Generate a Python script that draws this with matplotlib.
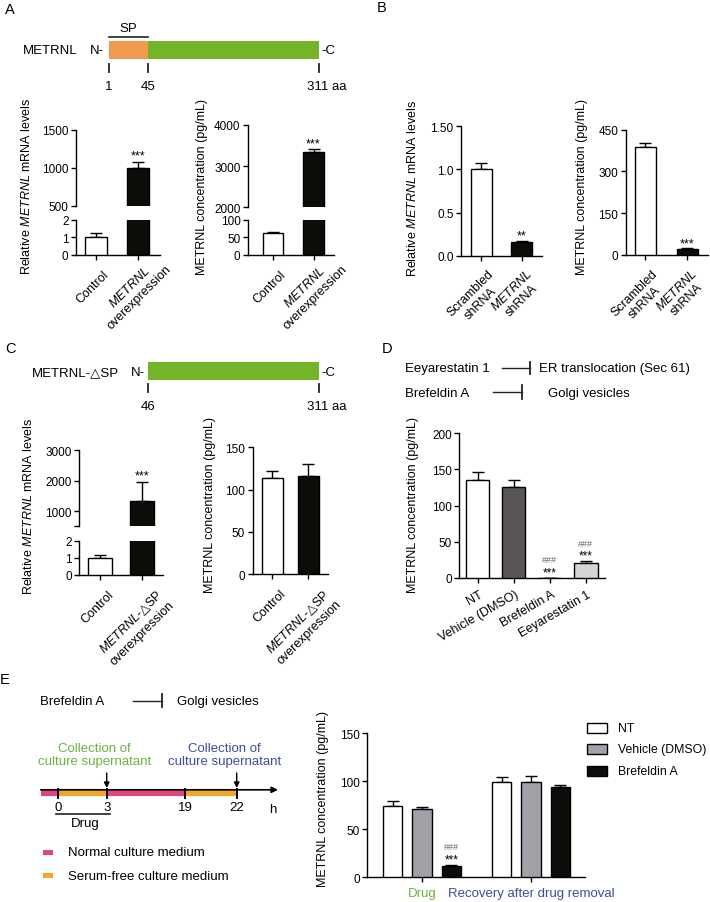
import numpy as np
import matplotlib
matplotlib.use('Agg')
import matplotlib.pyplot as plt
from matplotlib.patches import Rectangle
from matplotlib.transforms import ScaledTranslation

plt.rcParams['font.family'] = ['Liberation Sans', 'DejaVu Sans']
plt.rcParams['mathtext.fontset'] = 'custom'
plt.rcParams['mathtext.rm'] = 'Liberation Sans'
plt.rcParams['mathtext.it'] = 'Liberation Sans:italic'
plt.rcParams['mathtext.sf'] = 'DejaVu Sans'
plt.rcParams['mathtext.fallback'] = 'stix'

# ---- data ----
a_labels = ['Control', '$\\mathit{METRNL}$\noverexpression']
a_mrna = [1.0, 1000]
a_mrna_err = [0.22, 80]
a_conc = [61, 3350]
a_conc_err = [5, 60]

b_labels = ['Scrambled\nshRNA', '$\\mathit{METRNL}$\nshRNA']
b_mrna = [1.0, 0.155]
b_mrna_err = [0.08, 0.02]
b_conc = [388, 22]
b_conc_err = [15, 2]

c_labels = ['Control', '$\\mathit{METRNL}$-$\\mathsf{\u25b3}$SP\noverexpression']
c_mrna = [1.0, 1345]
c_mrna_err = [0.15, 620]
c_conc = [114, 116]
c_conc_err = [8, 14]

d_labels = ['NT', 'Vehicle (DMSO)', 'Brefeldin A', 'Eeyarestatin 1']
d_conc = [135, 126, 0.4, 21]
d_conc_err = [12, 9.5, 0, 2]

e_groups = ['Drug', 'Recovery after drug removal']
e_series = ['NT', 'Vehicle (DMSO)', 'Brefeldin A']
e_nt = [74, 99]
e_nt_err = [5.5, 5.5]
e_vehicle = [71.5, 99.6]
e_vehicle_err = [1.5, 6]
e_brefeldin = [12, 94.4]
e_brefeldin_err = [0.5, 2]

timeline_hours = ['0', '3', '19', '22']
media = ['Normal culture medium', 'Serum-free culture medium']

BLACK = '#0c0c08'
ORANGE = '#f0994f'
GREEN = '#73b428'
PINK = '#e2447f'
YELLOW = '#f0a62a'
TXT_GREEN = '#6cb33f'
TXT_BLUE = '#3f4c9c'
HASH = '#666666'

W, H = 710, 903
fig = plt.figure(figsize=(W / 100, H / 100), dpi=100)

# overlay in pixel coordinates for the schematics
ov = fig.add_axes([0, 0, 1, 1])
ov.set_xlim(0, W)
ov.set_ylim(H, 0)
ov.axis('off')


def px_axes(x0, y0, x1, y1):
    ax = fig.add_axes([x0 / W, 1 - y1 / H, (x1 - x0) / W, (y1 - y0) / H])
    ax.patch.set_visible(False)
    ax.spines[['top', 'right']].set_visible(False)
    for s in ax.spines.values():
        s.set_linewidth(1.0)
    ax.tick_params(direction='out', length=3.6, width=1.0, pad=1.8, labelsize=8.5)
    return ax


def hide_x(ax):
    ax.spines['bottom'].set_visible(False)
    ax.tick_params(axis='x', bottom=False, labelbottom=False)


def bars(ax, x, vals, errs, colors, width):
    ax.bar(x, vals, width, color=colors, edgecolor='black', linewidth=1.0, zorder=3)
    ax.errorbar(x, vals, yerr=[np.zeros(len(vals)), errs], fmt='none', ecolor='black',
                elinewidth=1.0, capsize=4, capthick=1.0, zorder=2)


def mark(ax, x, y, s, dy, size=9, color='black'):
    ax.annotate(s, (x, y), xytext=(0, dy), textcoords='offset pixels', ha='center',
                va='baseline', fontsize=size, color=color, annotation_clip=False)


def rot_labels(ax, labels, rot, offsets):
    x = np.arange(len(labels))
    ax.set_xticks(x)
    ax.set_xticklabels([])
    for xi, lab, (dx, dy) in zip(x, labels, offsets):
        tr = ax.get_xaxis_transform() + ScaledTranslation(dx / 100, -dy / 100, fig.dpi_scale_trans)
        ax.text(xi, 0, lab, transform=tr, rotation=rot, ha='right', va='top',
                rotation_mode='anchor', multialignment='center', fontsize=9)


def ylab(x, y, s):
    fig.text(x / W, 1 - y / H, s, rotation=90, ha='center', va='center', fontsize=9)


def broken(box, ylims, yticks, yticklabels, xlim, vals, errs, colors, width):
    x0, x1, ya, yb, yc, yd = box
    top = px_axes(x0, ya, x1, yb)
    bot = px_axes(x0, yc, x1, yd)
    for ax, lim, tk, tl in zip([top, bot], ylims, yticks, yticklabels):
        bars(ax, np.arange(len(vals)), vals, errs, colors, width)
        ax.set_ylim(*lim)
        ax.set_xlim(*xlim)
        ax.set_yticks(tk)
        ax.set_yticklabels(tl)
    hide_x(top)
    return top, bot


# ---------------- panel letters ----------------
for letter, (x, y) in zip('ABCDE', [(10, 9.5), (381.7, 8), (11, 349.5), (386.7, 348.7), (5, 680)]):
    ov.text(x, y, letter, fontsize=10.5, ha='center', va='center')

# ---------------- A : protein schematic ----------------
ov.text(22.7, 51.3, 'METRNL', fontsize=9.5, va='center')
ov.text(90, 51.3, 'N-', fontsize=9.5, va='center')
ov.add_patch(Rectangle((109, 41.7), 39, 18.3, facecolor=ORANGE, edgecolor='none'))
ov.add_patch(Rectangle((148, 41.7), 171, 18.3, facecolor=GREEN, edgecolor='none'))
ov.text(321.7, 51.3, '-C', fontsize=9.5, va='center')
ov.plot([109, 148], [37.7, 37.7], color='#222222', lw=1.2)
ov.text(128.3, 29, 'SP', fontsize=9.5, ha='center', va='center')
for xt in [109, 148, 319]:
    ov.plot([xt, xt], [65, 72.7], color='#222222', lw=1.3)
ov.text(109, 87.5, '1', fontsize=9.5, ha='center', va='center')
ov.text(148, 87.5, '45', fontsize=9.5, ha='center', va='center')
ov.text(307.3, 87.5, '311 aa', fontsize=9.5, va='center')

# A charts
top, bot = broken((76, 160, 130.7, 207, 220.7, 255.7), [(500, 1500), (0, 2)],
                  [[500, 1000, 1500], [0, 1, 2]], [['500', '1000', '1500'], ['0', '1', '2']],
                  (-0.476, 1.524), a_mrna, a_mrna_err, ['white', BLACK], 0.52)
mark(top, 1, a_mrna[1] + a_mrna_err[1], '***', 3)
rot_labels(bot, a_labels, 45, [(7, 13), (17, -3)])
ylab(27, 186, 'Relative $\\mathit{METRNL}$ mRNA levels')

top, bot = broken((248, 334, 125.7, 208.3, 220.7, 255.7), [(2000, 4000), (0, 100)],
                  [[2000, 3000, 4000], [0, 50, 100]], [['2000', '3000', '4000'], ['0', '50', '100']],
                  (-0.617, 1.506), a_conc, a_conc_err, ['white', BLACK], 0.5)
mark(top, 1, a_conc[1] + a_conc_err[1], '***', 3)
rot_labels(bot, a_labels, 45, [(7, 13), (17, -3)])
ylab(202, 187, 'METRNL concentration (pg/mL)')

# ---------------- B ----------------
ax = px_axes(461, 127.3, 541.7, 256.7)
bars(ax, np.arange(2), b_mrna, b_mrna_err, ['white', BLACK], 0.52)
ax.set_ylim(0, 1.5)
ax.set_xlim(-0.5, 1.49)
ax.set_yticks([0, 0.5, 1.0, 1.5])
ax.set_yticklabels(['0.0', '0.5', '1.0', '1.50'])
mark(ax, 1, b_mrna[1] + b_mrna_err[1], '**', 2)
rot_labels(ax, b_labels, 45, [(6, 12), (4, 11)])
ylab(413, 188, 'Relative $\\mathit{METRNL}$ mRNA levels')

ax = px_axes(625.7, 130.7, 708, 256)
bars(ax, np.arange(2), b_conc, b_conc_err, ['white', BLACK], 0.5)
ax.set_ylim(0, 450)
ax.set_xlim(-0.475, 1.5)
ax.set_yticks([0, 150, 300, 450])
mark(ax, 1, b_conc[1] + b_conc_err[1], '***', 2)
rot_labels(ax, b_labels, 45, [(6, 12), (3, 11)])
ylab(582, 187, 'METRNL concentration (pg/mL)')

# ---------------- C : schematic ----------------
ov.text(31.7, 372.8, 'METRNL-\u25b3SP', fontsize=9.5, va='center')
ov.text(131, 372.8, 'N-', fontsize=9.5, va='center')
ov.add_patch(Rectangle((148, 362.7), 171, 18.6, facecolor=GREEN, edgecolor='none'))
ov.text(321.7, 372.8, '-C', fontsize=9.5, va='center')
for xt in [148, 319]:
    ov.plot([xt, xt], [385, 393], color='#222222', lw=1.3)
ov.text(148, 406.7, '46', fontsize=9.5, ha='center', va='center')
ov.text(307.3, 406.7, '311 aa', fontsize=9.5, va='center')

top, bot = broken((79.3, 163, 451.3, 527.3, 541.7, 575.7), [(500, 3000), (0, 2)],
                  [[500, 1000, 2000, 3000], [0, 1, 2]], [['', '1000', '2000', '3000'], ['0', '1', '2']],
                  (-0.51, 1.52), c_mrna, c_mrna_err, ['white', BLACK], 0.58)
mark(top, 1, c_mrna[1] + c_mrna_err[1], '***', 3)
rot_labels(bot, c_labels, 45, [(7, 13), (15, 12)])
ylab(28, 506, 'Relative $\\mathit{METRNL}$ mRNA levels')

ax = px_axes(252.7, 448.3, 328, 575)
bars(ax, np.arange(2), c_conc, c_conc_err, ['white', BLACK], 0.58)
ax.set_ylim(0, 150)
ax.set_xlim(-0.545, 1.55)
ax.set_yticks([0, 50, 100, 150])
rot_labels(ax, c_labels, 45, [(7, 13), (15, 12)])
ylab(210, 505, 'METRNL concentration (pg/mL)')

# ---------------- D ----------------
def inhibit(x0, x1, y, h):
    ov.plot([x0, x1], [y, y], color='#222222', lw=1.0)
    ov.plot([x1, x1], [y - h, y + h], color='#222222', lw=1.3)

ov.text(405, 369.5, 'Eeyarestatin 1', fontsize=9.5, va='center')
inhibit(501.7, 530, 369.3, 6)
ov.text(539.3, 369.5, 'ER translocation (Sec 61)', fontsize=9.5, va='center')
ov.text(405, 393.8, 'Brefeldin A', fontsize=9.5, va='center')
inhibit(493, 521.7, 392.5, 7)
ov.text(547.7, 393.8, 'Golgi vesicles', fontsize=9.5, va='center')

ax = px_axes(459.3, 434.3, 605, 579)
bars(ax, np.arange(4), d_conc, d_conc_err, ['white', '#5a5658', '#9a9a9a', '#d4d4d4'], 0.645)
ax.set_ylim(0, 200)
ax.set_xlim(-0.51, 3.53)
ax.set_yticks([0, 50, 100, 150, 200])
for i in [2, 3]:
    top_v = d_conc[i] + d_conc_err[i]
    mark(ax, i, top_v, '***', 2.5, size=8.5)
    mark(ax, i, top_v, '###', 15.5, size=6.5, color=HASH)
rot_labels(ax, d_labels, 30, [(1, 10)] * 4)
ylab(413, 505, 'METRNL concentration (pg/mL)')

# ---------------- E : schematic ----------------
ov.text(40, 701.7, 'Brefeldin A', fontsize=9.5, va='center')
inhibit(133, 161.7, 701.5, 6.5)
ov.text(176.7, 701.7, 'Golgi vesicles', fontsize=9.5, va='center')

tl_x = [58.3, 106.7, 185, 236.7]
band = [(40.7, 58.3, PINK), (58.3, 106.7, YELLOW), (106.7, 185, PINK), (185, 236.7, YELLOW)]
for xa, xb, col in band:
    ov.add_patch(Rectangle((xa, 790.5), xb - xa, 7, facecolor=col, edgecolor='none'))
ov.annotate('', xy=(278, 790.8), xytext=(40.7, 790.8),
            arrowprops=dict(arrowstyle='-|>', lw=1.2, color='black', mutation_scale=9, shrinkA=0, shrinkB=0))
for xt, lab in zip(tl_x, timeline_hours):
    ov.plot([xt, xt], [790.5, 799], color='black', lw=1.4)
    ov.text(xt, 808.3, lab, fontsize=9.5, ha='center', va='center')
ov.text(272.7, 810, 'h', fontsize=9.5, ha='center', va='center')
ov.plot([56, 110], [815.3, 815.3], color='#222222', lw=1.2)
ov.text(85, 824.3, 'Drug', fontsize=9.5, ha='center', va='center')
for xt, col in [(tl_x[1], TXT_GREEN), (tl_x[3], TXT_BLUE)]:
    ov.annotate('', xy=(xt, 789), xytext=(xt, 774),
                arrowprops=dict(arrowstyle='-|>', lw=1.0, color='black', mutation_scale=8, shrinkA=0, shrinkB=0))
    ov.text(xt - 12, 755.5, 'Collection of\nculture supernatant', fontsize=9.5, ha='center',
            va='center', color=col, linespacing=1.2)
for i, (name, col) in enumerate(zip(media, [PINK, YELLOW])):
    y = 853.3 + i * 23.4
    ov.add_patch(Rectangle((43.3, y - 2.5), 9.4, 5, facecolor=col, edgecolor='none'))
    ov.text(68.3, y, name, fontsize=9.5, va='center')

# E chart
ax = px_axes(367.3, 734.3, 585, 878.3)
gx = np.arange(len(e_groups))
e_vals = [e_nt, e_vehicle, e_brefeldin]
e_errs = [e_nt_err, e_vehicle_err, e_brefeldin_err]
e_colors = ['white', '#a2a1a8', BLACK]
for k, off in enumerate([-0.27, 0, 0.27]):
    bars(ax, gx + off, e_vals[k], e_errs[k], e_colors[k], 0.18)
ax.set_ylim(0, 150)
ax.set_xlim(-0.502, 1.495)
ax.set_yticks([0, 50, 100, 150])
ax.set_xticks(gx)
ax.set_xticklabels(e_groups, fontsize=9.5)
ax.tick_params(axis='x', pad=3.5)
for t, c in zip(ax.get_xticklabels(), [TXT_GREEN, TXT_BLUE]):
    t.set_color(c)
top_v = e_brefeldin[0] + e_brefeldin_err[0]
mark(ax, 0.27, top_v, '***', 3, size=8.5)
mark(ax, 0.27, top_v, '###', 16, size=6.5, color=HASH)
ylab(323, 799, 'METRNL concentration (pg/mL)')

for i, (name, col) in enumerate(zip(e_series, e_colors)):
    y = 729 + i * 21.4
    ov.add_patch(Rectangle((586.7, y - 5), 20, 10, facecolor=col, edgecolor='black', lw=1.0))
    ov.text(618.3, y, name, fontsize=8.8, va='center')

fig.savefig('out.png', dpi=100)
